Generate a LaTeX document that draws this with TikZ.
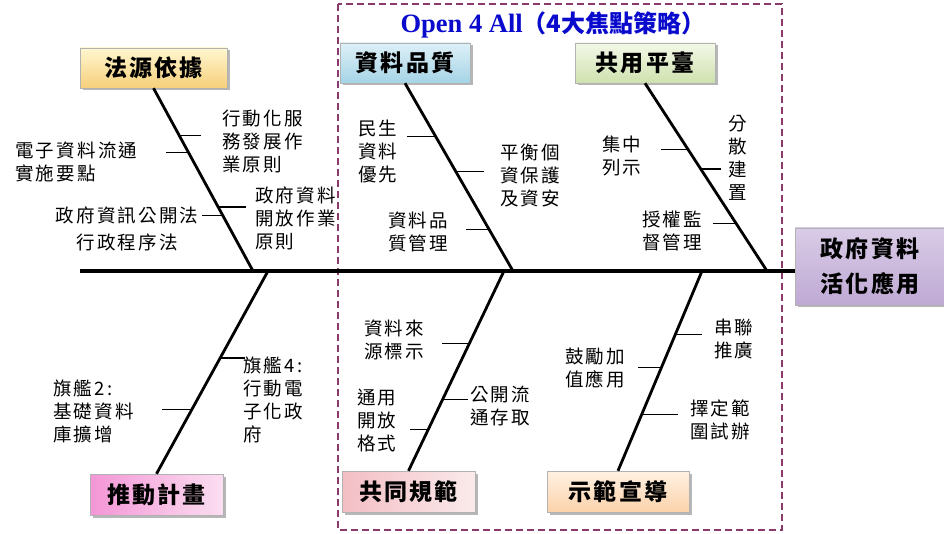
\documentclass[tikz,border=0pt]{standalone}
\usepackage{fontspec}
\setmainfont{Noto Sans CJK TC}
\newfontfamily\lblfont[LetterSpace=12.0]{Noto Sans CJK TC}
\newfontfamily\catfont[LetterSpace=10.0]{Noto Sans CJK TC}
\newfontfamily\latinfont{Liberation Serif}
\usepackage{tikz}
\usetikzlibrary{calc,shadows,positioning}

\definecolor{dashred}{RGB}{139,58,110}
\definecolor{ttlblue}{RGB}{10,10,205}
\definecolor{yelT}{RGB}{255,247,208}\definecolor{yelB}{RGB}{246,207,122}
\definecolor{bluT}{RGB}{221,240,247}\definecolor{bluB}{RGB}{165,212,230}
\definecolor{grnT}{RGB}{243,248,232}\definecolor{grnB}{RGB}{207,225,174}
\definecolor{pnkL}{RGB}{243,150,214}\definecolor{pnkR}{RGB}{251,222,241}
\definecolor{rosL}{RGB}{242,190,196}\definecolor{rosR}{RGB}{251,234,235}
\definecolor{pchT}{RGB}{255,241,227}\definecolor{pchB}{RGB}{251,210,170}
\definecolor{lavT}{RGB}{217,204,230}\definecolor{lavM}{RGB}{242,238,247}\definecolor{lavB}{RGB}{191,169,212}

\tikzset{
  cat/.style={rectangle,draw=black!30,inner sep=0pt,minimum height=40pt,
    font=\fontsize{23}{26}\selectfont\catfont\bfseries,
    drop shadow={shadow xshift=2.5pt,shadow yshift=-2.5pt,fill=black!40,opacity=.7}},
  lbl/.style={inner sep=0pt,align=left,anchor=west,font=\fontsize{18.5}{23}\selectfont\lblfont},
  bone/.style={line width=2.8pt},
  tick/.style={line width=1.1pt},
}

\begin{document}
\begin{tikzpicture}[x=1pt,y=-1pt]
\useasboundingbox (0,0) rectangle (944,534);

% Open 4 All frame
\draw[dashred,line width=1.8pt,dash pattern=on 7pt off 4pt] (338,4) rectangle (782,530);
\node[text=ttlblue,font=\fontsize{26.5}{30}\selectfont] (ttl) at (553,25)
  {\latinfont\bfseries Open 4 All\rmfamily\fontsize{24}{30}\selectfont\bfseries（4大焦點策略）};

% category boxes
\begin{scope}[every node/.style={cat}]
  \node[minimum width=147pt,top color=yelT,bottom color=yelB] (fy) at (153.5,68) {法源依據};
  \node[minimum width=130pt,top color=bluT,bottom color=bluB] (zl) at (405,63) {資料品質};
  \node[minimum width=140pt,top color=grnT,bottom color=grnB] (gy) at (645,63) {共用平臺};
  \node[minimum width=133pt,minimum height=41pt,left color=pnkL,right color=pnkR] (tj) at (156.5,494.5) {推動計畫};
  \node[minimum width=133pt,minimum height=41pt,left color=rosL,right color=rosR] (gf) at (408.5,491.5) {共同規範};
  \node[minimum width=142pt,minimum height=41pt,top color=pchT,bottom color=pchB] (sf) at (618,491.5) {示範宣導};
  \node[minimum width=150pt,minimum height=77pt,align=center,top color=lavT,middle color=lavM,bottom color=lavB,
        font=\fontsize{23}{35}\selectfont\catfont\bfseries] (head) at (870,266.5) {政府資料\\活化應用};
\end{scope}

% spine
\coordinate (tail) at (80,271);
\draw[line width=4.5pt] (tail) -- (tail -| head.west);

% bones
\coordinate (fyS) at (253,271);
\coordinate (zlS) at (513,271);
\coordinate (gyS) at (767,271);
\coordinate (tjS) at (268,271);
\coordinate (gfS) at (504,271);
\coordinate (sfS) at (702,271);
\begin{scope}[every edge/.style={draw,bone}]
  \path (fy.south) edge (fyS);
  \path (zl.south) edge (zlS);
  \path (gy.south) edge (gyS);
  \path (tj.north) edge (tjS);
  \path (gf.north) edge (gfS);
  \path (sf.north) edge (sfS);
\end{scope}

% points on the bones
\coordinate (fy1) at ($(fy.south)!.257!(fyS)$);
\coordinate (fy2) at ($(fy.south)!.350!(fyS)$);
\coordinate (fy3) at ($(fy.south)!.650!(fyS)$);
\coordinate (fy4) at ($(fy.south)!.694!(fyS)$);
\coordinate (zl1) at ($(zl.south)!.282!(zlS)$);
\coordinate (zl2) at ($(zl.south)!.468!(zlS)$);
\coordinate (zl3) at ($(zl.south)!.777!(zlS)$);
\coordinate (gy1) at ($(gy.south)!.351!(gyS)$);
\coordinate (gy2) at ($(gy.south)!.457!(gyS)$);
\coordinate (gy3) at ($(gy.south)!.745!(gyS)$);
\coordinate (tj1) at ($(tj.north)!.571!(tjS)$);
\coordinate (tj2) at ($(tj.north)!.315!(tjS)$);
\coordinate (gf1) at ($(gf.north)!.635!(gfS)$);
\coordinate (gf2) at ($(gf.north)!.355!(gfS)$);
\coordinate (gf3) at ($(gf.north)!.205!(gfS)$);
\coordinate (sf1) at ($(sf.north)!.680!(sfS)$);
\coordinate (sf2) at ($(sf.north)!.515!(sfS)$);
\coordinate (sf3) at ($(sf.north)!.280!(sfS)$);

% ticks
\draw[tick] (fy1) -- ++(22,0);
\draw[tick] (fy2) -- ++(-22,0);
\draw[tick] (fy3) -- ++(28,0);
\draw[tick] (fy4) -- ++(-21,0);
\draw[tick] (zl1) -- ++(-28,0);
\draw[tick] (zl2) -- ++(28,0);
\draw[tick] (zl3) -- ++(-23,0);
\draw[tick] (gy1) -- ++(-27,0);
\draw[tick] (gy2) -- ++(20,0);
\draw[tick] (gy3) -- ++(-23,0);
\draw[tick] (tj1) -- ++(25,0);
\draw[tick] (tj2) -- ++(-30,0);
\draw[tick] (gf1) -- ++(-27,0);
\draw[tick] (gf2) -- ++(26,0);
\draw[tick] (gf3) -- ++(-18,0);
\draw[tick] (sf1) -- ++(27,0);
\draw[tick] (sf2) -- ++(-23,0);
\draw[tick] (sf3) -- ++(36,0);

% causes
\begin{scope}[every node/.style={lbl}]
  \node (a1) at (222,141) {行動化服\\務發展作\\業原則};
  \node (a2) at (15,161.5) {電子資料流通\\實施要點};
  \node[anchor=center,align=center,font=\fontsize{18.5}{27}\selectfont\lblfont] (a3) at (127,228.5) {政府資訊公開法\\行政程序法};
  \node (a4) at (255,218.5) {政府資料\\開放作業\\原則};
  \node (b1) at (358,151.5) {民生\\資料\\優先};
  \node (b2) at (500,175.5) {平衡個\\資保護\\及資安};
  \node (b3) at (388,231.5) {資料品\\質管理};
  \node (c1) at (602,155.5) {集中\\列示};
  \node (c2) at (728,157.5) {分\\散\\建\\置};
  \node (c3) at (642,230.5) {授權監\\督管理};
  \node (d1) at (243,400) {旗艦4:\\行動電\\子化政\\府};
  \node (d2) at (53,411.5) {旗艦2:\\基礎資料\\庫擴增};
  \node (e1) at (364,340) {資料來\\源標示};
  \node (e2) at (470,406) {公開流\\通存取};
  \node (e3) at (357,420.5) {通用\\開放\\格式};
  \node (f1) at (714,339) {串聯\\推廣};
  \node (f2) at (565,368) {鼓勵加\\值應用};
  \node (f3) at (690,420) {擇定範\\圍試辦};
\end{scope}
\end{tikzpicture}
\end{document}
